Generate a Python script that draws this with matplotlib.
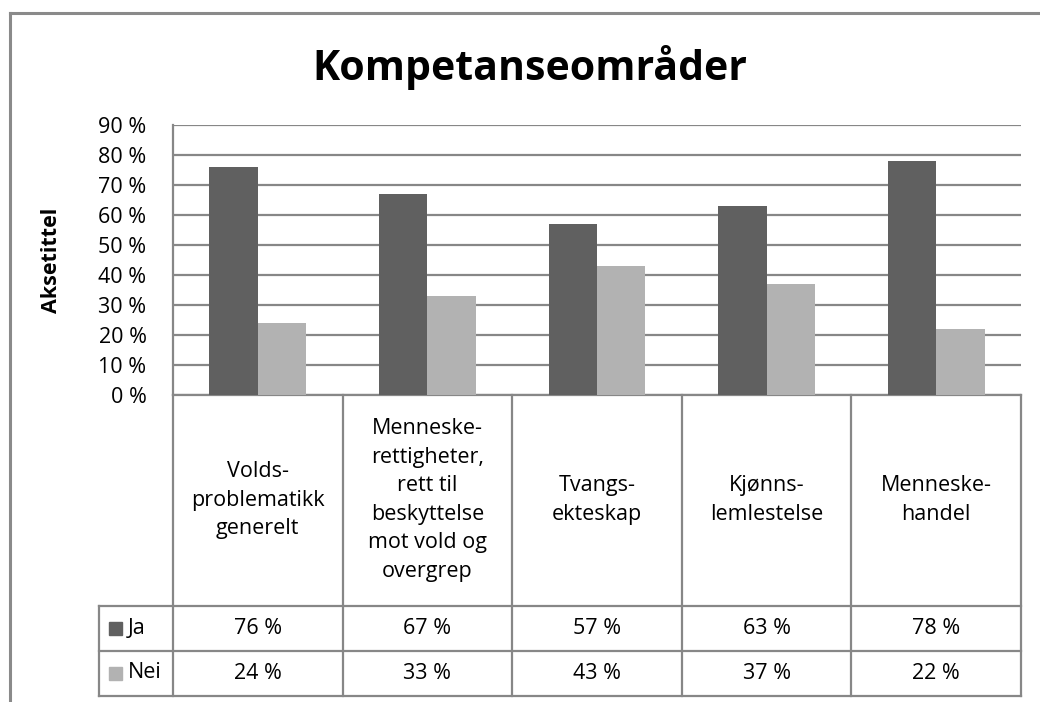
#!/usr/bin/env python3
"""Kompetanseområder - Excel-style grouped bars with a data table underneath."""

import matplotlib
matplotlib.use("Agg")
import matplotlib.pyplot as plt
from matplotlib.lines import Line2D
from matplotlib.patches import Rectangle
import numpy as np

# ── Data ───────────────────────────────────────────────────────────────────────
categories = [
    "Volds-\nproblematikk\ngenerelt",
    "Menneske-\nrettigheter,\nrett til\nbeskyttelse\nmot vold og\novergrep",
    "Tvangs-\nekteskap",
    "Kjønns-\nlemlestelse",
    "Menneske-\nhandel",
]
series_names = ["Ja", "Nei"]
ja = [76, 67, 57, 63, 78]
nei = [24, 33, 43, 37, 22]
y_ticks = [0, 10, 20, 30, 40, 50, 60, 70, 80, 90]

# ── Style ──────────────────────────────────────────────────────────────────────
FONT = "Open Sans"
DARK = "#606060"
LIGHT = "#b2b2b2"
GRID = "#878787"
TXT = "#000000"
FS = 15.5

plt.rcParams["font.family"] = [FONT, "DejaVu Sans"]

W, H = 1040, 702
fig = plt.figure(figsize=(W / 100, H / 100), dpi=100, facecolor="white")

# plot area in pixels: x 173..1021, y 125..395
L, R, T, B = 173, 1021, 125, 395
ax = fig.add_axes([L / W, 1 - B / H, (R - L) / W, (B - T) / H])

n = len(categories)
x = np.arange(n) + 0.5
w = 1 / 3.5  # Excel gap width 150 %
ax.bar(x - w / 2, ja, width=w, color=DARK, zorder=3)
ax.bar(x + w / 2, nei, width=w, color=LIGHT, zorder=3)

ax.set_xlim(0, n)
ax.set_ylim(0, 90)
ax.set_yticks(y_ticks)
ax.set_yticklabels([f"{t} %" for t in y_ticks], fontsize=FS, color=TXT)
ax.set_xticks([])
ax.tick_params(axis="y", length=0, pad=19)
ax.yaxis.grid(True, color=GRID, linewidth=1.6, zorder=0)
ax.set_axisbelow(True)
for s in ["top", "right"]:
    ax.spines[s].set_visible(False)
for s in ["left", "bottom"]:
    ax.spines[s].set_color(GRID)
    ax.spines[s].set_linewidth(1.6)

ax.set_ylabel("Aksetittel", fontsize=FS, fontweight="bold", color=TXT)
ax.yaxis.set_label_coords((62 - L) / (R - L), 0.5)

# ── Data table under the plot ─────────────────────────────────────────────────
tr = ax.get_xaxis_transform()  # x in data, y in axes fraction
def ay(py):
    return (B - py) / (B - T)

y_hdr, y_mid, y_bot = ay(606), ay(651), ay(696)
x_leg = (99 - L) / ((R - L) / n)

line_kw = dict(color=GRID, linewidth=1.6, transform=tr, clip_on=False, zorder=5)
for xi in range(n + 1):
    ax.plot([xi, xi], [0, y_bot], **line_kw)
for yy in (y_hdr, y_mid, y_bot):
    ax.plot([x_leg, n], [yy, yy], **line_kw)
ax.plot([x_leg, x_leg], [y_hdr, y_bot], **line_kw)

for xi, lab in zip(x, categories):
    ax.text(xi, ay(500), lab, transform=tr, ha="center", va="center",
            fontsize=FS, color=TXT, linespacing=1.47, multialignment="center")

rows = [(ja, DARK, ay(628)), (nei, LIGHT, ay(673))]
for name, (vals, col, yy) in zip(series_names, rows):
    for xi, v in zip(x, vals):
        ax.text(xi, yy, f"{v} %", transform=tr, ha="center", va="center",
                fontsize=FS, color=TXT)
    # legend key + series name
    py = B - yy * (B - T)
    fig.patches.append(Rectangle((109 / W, 1 - (py + 6.5) / H), 13 / W, 13 / H,
                                 transform=fig.transFigure, color=col))
    fig.text(128 / W, 1 - py / H, name, ha="left", va="center",
             fontsize=FS, color=TXT)

# ── Title and chart frame ─────────────────────────────────────────────────────
fig.text(530 / W, 1 - 80 / H, "Kompetanseområder", ha="center", va="baseline",
         fontsize=29.5, fontweight="bold", color=TXT)

frame_kw = dict(color="#8a8a8a", linewidth=2.2, transform=fig.transFigure)
fig.add_artist(Line2D([10 / W, 10 / W], [0, 1 - 13 / H], **frame_kw))
fig.add_artist(Line2D([10 / W, 1], [1 - 13 / H, 1 - 13 / H], **frame_kw))

fig.savefig("out.png", dpi=100, facecolor="white")
